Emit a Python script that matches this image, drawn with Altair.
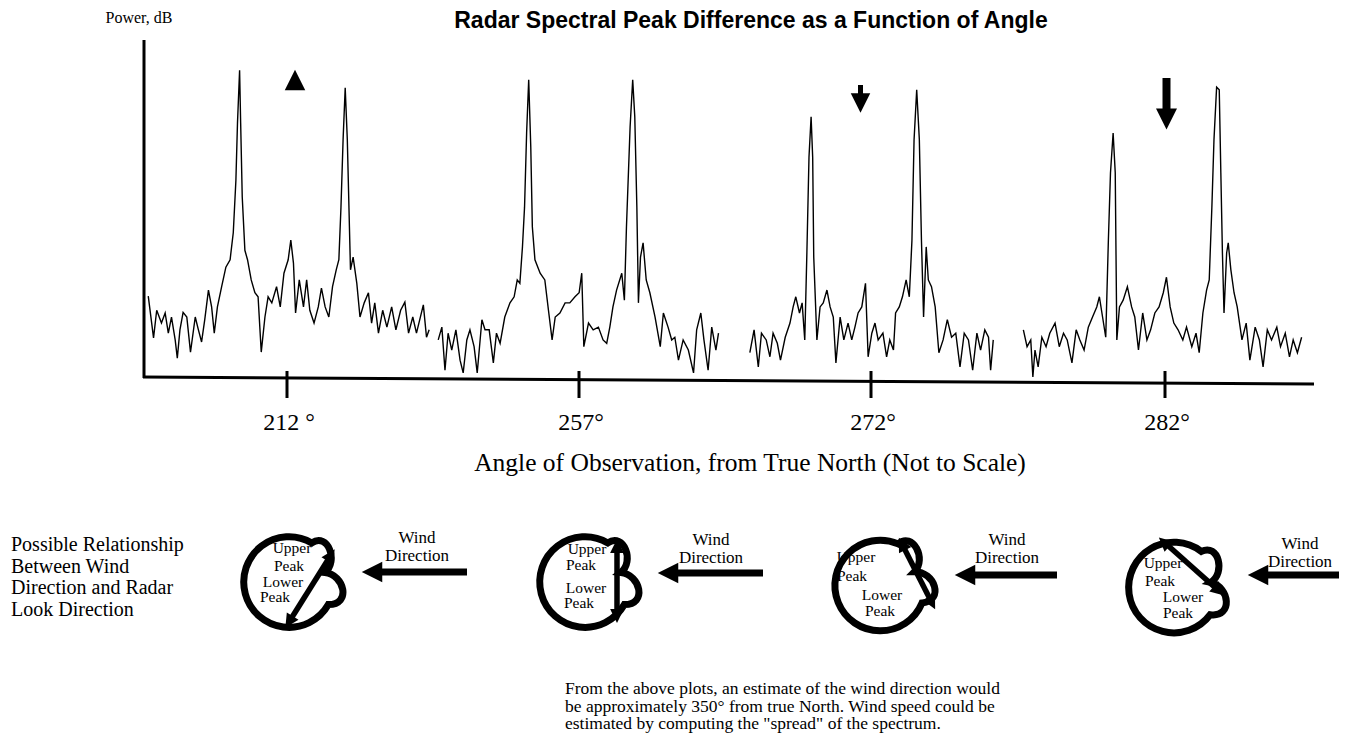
import math
import altair as alt
import pandas as pd

# ---------------- data ----------------
ANGLES = [212, 257, 272, 282]
ANGLE_LABELS = ["212 °", "257°", "272°", "282°"]

# normalised Doppler frequency (f / f_Bragg) and power (dB), one pair per look angle
F212 = [-2.73, -2.63, -2.57, -2.48, -2.41, -2.35, -2.29, -2.22, -2.18, -2.13, -2.07, -2.00,
        -1.93, -1.84, -1.78, -1.72, -1.66, -1.59, -1.53, -1.48, -1.42, -1.34, -1.26, -1.18, -1.12, -1.07, -1.04,
        -1.00,
        -0.98, -0.95, -0.90, -0.85, -0.78, -0.71, -0.65, -0.59, -0.52, -0.46, -0.39, -0.30, -0.23, -0.16, -0.08, -0.03,
        0.02, 0.06, 0.13, 0.21, 0.27, 0.33, 0.41, 0.49, 0.55, 0.62, 0.69, 0.76, 0.83, 0.88, 0.92, 0.96,
        1.00,
        1.04, 1.08, 1.10, 1.15, 1.22, 1.28, 1.36, 1.44, 1.50, 1.56, 1.63, 1.71, 1.79, 1.88, 1.96, 2.05, 2.13,
        2.20, 2.28, 2.35, 2.48, 2.54, 2.59]
P212 = [12.0, 5.8, 9.9, 8.0, 9.5, 6.5, 8.9, 5.5, 2.8, 7.0, 9.6, 8.9,
        3.7, 8.9, 7.0, 5.2, 8.5, 12.9, 10.4, 6.5, 10.4, 13.4, 16.3, 17.4, 21.4, 29.2, 37.7,
        45.5,
        37.7, 26.7, 18.8, 17.4, 14.4, 12.5, 11.9, 3.7, 8.9, 11.9, 11.0, 13.4, 10.4, 15.4, 17.4, 20.3,
        16.9, 9.5, 14.4, 10.4, 14.4, 9.9, 8.0, 10.4, 13.2, 10.4, 8.9, 13.4, 15.9, 17.4, 25.2, 35.2,
        42.9,
        35.2, 22.3, 15.9, 17.8, 13.9, 8.9, 11.0, 12.5, 8.0, 11.0, 6.5, 9.9, 7.4, 10.4, 7.0, 9.9, 11.1,
        6.5, 8.9, 6.5, 10.7, 5.9, 7.0]

F257 = [-2.74, -2.67, -2.61, -2.55, -2.48, -2.40, -2.32, -2.26, -2.19, -2.13,
        -2.05, -1.99, -1.90, -1.84, -1.76, -1.68, -1.62, -1.55, -1.46, -1.36,
        -1.28, -1.22, -1.17, -1.12, -1.08, -1.04, -1.00, -0.96, -0.93, -0.88,
        -0.78, -0.69, -0.62, -0.55, -0.49, -0.40, -0.30, -0.21, -0.11, -0.03,
        0.02, 0.06, 0.15, 0.24, 0.34, 0.43, 0.50, 0.56, 0.62, 0.69,
        0.79, 0.84, 0.88, 0.95, 1.00, 1.04, 1.08, 1.11, 1.15, 1.20,
        1.26, 1.33, 1.43, 1.53, 1.59, 1.68, 1.75, 1.81, 1.88, 1.97,
        2.07, 2.17, 2.23, 2.31, 2.37, 2.45, 2.52, 2.60, 2.65]
P257 = [5.5, 7.4, 1.0, 6.5, 4.0, 7.0, 2.5, 0.6, 5.5, 7.0,
        4.5, 0.6, 8.5, 7.0, 7.0, 2.1, 6.5, 5.0, 8.9, 11.0,
        11.9, 14.4, 13.9, 19.3, 25.2, 36.2, 44.1, 34.1, 22.3, 17.4,
        15.4, 14.4, 9.9, 5.5, 8.9, 9.5, 11.0, 11.0, 11.9, 12.5,
        15.4, 4.5, 8.0, 7.0, 7.4, 5.5, 5.0, 7.4, 10.4, 12.9,
        15.4, 11.4, 22.3, 37.1, 44.1, 38.6, 25.2, 11.0, 17.8, 19.9,
        14.4, 12.5, 8.9, 4.5, 9.5, 7.4, 5.5, 5.9, 2.5, 5.5,
        4.0, 0.6, 7.0, 9.5, 5.5, 1.0, 7.4, 4.0, 6.5]

F272 = [-2.16, -2.08, -2.00, -1.94, -1.85, -1.78, -1.72, -1.64, -1.58, -1.49,
        -1.40, -1.34, -1.29, -1.22, -1.17, -1.12, -1.08, -1.04, -1.00, -0.97,
        -0.95, -0.89, -0.83, -0.77, -0.70, -0.64, -0.58, -0.53, -0.45, -0.38,
        -0.30, -0.23, -0.17, -0.11, -0.04, 0.03, 0.08, 0.15, 0.21, 0.27,
        0.36, 0.43, 0.49, 0.56, 0.60, 0.67, 0.73, 0.80, 0.86, 0.91,
        0.95, 1.00, 1.05, 1.09, 1.13, 1.18, 1.22, 1.28, 1.35, 1.42,
        1.50, 1.58, 1.66, 1.74, 1.82, 1.90, 1.98, 2.06, 2.14, 2.21,
        2.29, 2.36, 2.40, 2.45]
P272 = [3.6, 7.0, 1.5, 6.5, 5.5, 3.0, 6.5, 5.0, 2.5, 5.9,
        8.0, 10.4, 11.9, 9.5, 11.0, 5.5, 18.4, 32.6, 38.6, 32.6,
        17.8, 5.5, 10.4, 11.0, 12.9, 10.4, 8.9, 2.1, 8.9, 5.5,
        8.0, 5.5, 7.4, 9.5, 10.4, 13.9, 3.0, 6.5, 8.0, 5.5,
        6.5, 3.0, 5.5, 4.0, 9.5, 10.4, 11.9, 14.4, 11.9, 20.3,
        35.2, 42.6, 35.2, 20.3, 8.9, 19.3, 14.4, 13.4, 10.4, 3.6,
        5.5, 8.5, 5.9, 6.5, 1.5, 6.5, 5.5, 1.0, 6.5, 4.0,
        7.0, 5.9, 1.0, 5.5]

F282 = [-2.69, -2.62, -2.55, -2.51, -2.47, -2.41, -2.34, -2.26, -2.19, -2.09,
        -2.01, -1.93, -1.86, -1.77, -1.69, -1.62, -1.54, -1.46, -1.38, -1.30,
        -1.25, -1.19, -1.13, -1.08, -1.04, -0.99, -0.95, -0.92, -0.87, -0.80,
        -0.72, -0.64, -0.58, -0.51, -0.43, -0.35, -0.28, -0.20, -0.12, -0.04,
        0.02, 0.09, 0.16, 0.24, 0.33, 0.40, 0.50, 0.58, 0.64, 0.71,
        0.78, 0.83, 0.88, 0.92, 0.97, 1.02, 1.05, 1.08, 1.11, 1.16,
        1.19, 1.24, 1.30, 1.36, 1.45, 1.53, 1.60, 1.70, 1.78, 1.85,
        1.93, 2.01, 2.11, 2.18, 2.27, 2.35, 2.42, 2.50, 2.58]
P282 = [7.0, 4.5, 5.5, 0.0, 4.0, 1.5, 5.9, 4.5, 6.5, 8.0,
        4.5, 6.5, 5.5, 2.1, 7.0, 5.5, 4.0, 7.4, 8.9, 10.4,
        11.9, 8.9, 5.9, 20.3, 30.3, 36.2, 30.3, 5.5, 10.4, 11.4,
        13.4, 10.4, 8.9, 4.0, 9.5, 5.5, 7.0, 9.5, 10.4, 12.5,
        14.8, 10.4, 8.0, 7.0, 5.5, 7.4, 4.5, 6.5, 3.6, 9.5,
        12.9, 14.4, 25.2, 35.2, 43.0, 42.6, 30.3, 18.4, 9.5, 18.4,
        19.9, 15.9, 12.5, 10.4, 5.5, 8.0, 2.5, 7.4, 5.5, 1.5,
        7.0, 5.5, 7.4, 4.5, 6.5, 3.0, 5.5, 3.6, 5.9]

SPECTRA = [(F212, P212), (F257, P257), (F272, P272), (F282, P282)]

TITLE = "Radar Spectral Peak Difference as a Function of Angle"
Y_TITLE = "Power, dB"
X_TITLE = "Angle of Observation, from True North (Not to Scale)"
SIDE_TEXT = ["Possible Relationship", "Between Wind", "Direction and Radar", "Look Direction"]
WIND_TEXT = ["Wind", "Direction"]
NOTE = ["From the above plots, an estimate of the wind direction would",
        "be approximately 350° from true North. Wind speed could be",
        "estimated by computing the \"spread\" of the spectrum."]

# ---------------- layout (page pixels) ----------------
M = 8  # page margin
W, H = 1331, 730
SERIF = "Liberation Serif"
SANS = "Liberation Sans"

PANEL_CENTER = [292.4, 580.7, 863.9, 1165.4]
PANEL_PPU = [52.8, 52.0, 52.8, 52.8]
Y_RANGE = [377 - M, 40 - M]
TICK_PX = [287 - M, 579 - M, 871 - M, 1165 - M]

ONE = alt.Data(values=[{"k": 0}])


def vx(x):
    return alt.value(x - M)


def vy(y):
    return alt.value(y - M)


def text(s, x, y, size, font=SERIF, weight="normal", align="center", baseline="middle", lh=None):
    kw = {}
    if lh is not None:
        kw["lineHeight"] = lh
    return alt.Chart(ONE).mark_text(
        text=s, font=font, fontSize=size, fontWeight=weight, align=align,
        baseline=baseline, color="black", **kw
    ).encode(x=vx(x), y=vy(y))


def rule(x1, y1, x2, y2, w):
    return alt.Chart(ONE).mark_rule(color="black", strokeWidth=w).encode(
        x=vx(x1), y=vy(y1), x2=vx(x2), y2=vy(y2))


def symbol(shape, x, y, size, angle=0, filled=True, sw=1):
    return alt.Chart(ONE).mark_point(
        shape=shape, size=size, angle=angle, filled=filled, color="black",
        opacity=1, strokeWidth=sw
    ).encode(x=vx(x), y=vy(y))


TRI_UP = "M0,-1L1,1L-1,1Z"
TRI_DOWN = "M-1,-1L1,-1L0,1Z"
TRI_LEFT = "M-1,0L1,-1L1,1Z"
# circle with a small "B"-like double bump on its right side
B_SHAPE = ("M0.545,-0.62 C0.90,-0.74 0.96,-0.14 0.64,0 "
           "C1.0,0.14 0.98,0.74 0.545,0.62 A0.88,0.88 0 1 1 0.545,-0.62 Z")

layers = []

# spectra
for (f, p), c, ppu in zip(SPECTRA, PANEL_CENTER, PANEL_PPU):
    df = pd.DataFrame({"f": f, "p": p})
    lo, hi = c - M - 2.8 * ppu, c - M + 2.8 * ppu
    layers.append(
        alt.Chart(df).mark_line(color="black", strokeWidth=1.4).encode(
            x=alt.X("f:Q", axis=None,
                    scale=alt.Scale(domain=[-2.8, 2.8], range=[lo, hi], nice=False, zero=False)),
            y=alt.Y("p:Q", axis=None,
                    scale=alt.Scale(domain=[0, 50], range=Y_RANGE, nice=False, zero=False)),
        )
    )

# axes
layers.append(rule(144, 40, 144, 378, 3))
layers.append(rule(143, 377, 1314, 384, 3))

tick_df = pd.DataFrame({"angle": ANGLES, "label": ANGLE_LABELS})
ang_x = alt.X("angle:Q", axis=None,
              scale=alt.Scale(domain=ANGLES, range=TICK_PX, nice=False, zero=False))
layers.append(alt.Chart(tick_df).mark_rule(color="black", strokeWidth=3).encode(
    x=ang_x, y=vy(371), y2=vy(398)))
layers.append(alt.Chart(tick_df).mark_text(
    font=SERIF, fontSize=24, dx=2, baseline="middle", color="black").encode(
    x=ang_x, y=vy(423), text="label:N"))

layers.append(text(X_TITLE, 750, 463, 25.5))
layers.append(text(TITLE, 751, 28, 23, font=SANS, weight="bold", baseline="alphabetic"))
layers.append(text(Y_TITLE, 139, 18, 16))

# direction markers over the spectra
layers.append(symbol(TRI_UP, 295, 80, 420))
layers.append(rule(860.5, 85, 860.5, 97, 5))
layers.append(symbol(TRI_DOWN, 860.5, 103, 380))
layers.append(rule(1166.5, 78, 1166.5, 110, 8))
layers.append(symbol(TRI_DOWN, 1166.5, 119, 440))

# lower explanatory panel
layers.append(text(SIDE_TEXT, 11, 535, 20, align="left", baseline="top", lh=21.5))

circles = [
    dict(cx=293, cy=581, ang=345,
         arrow=(289, 622, 331, 555),
         words=[("Upper", 292, 548), ("Peak", 289, 566), ("Lower", 283, 582), ("Peak", 275, 597)],
         wind=(362, 467, 572), wtxt=(417, 530)),
    dict(cx=589, cy=581, ang=345,
         arrow=(617, 546, 617, 616),
         words=[("Upper", 587, 549), ("Peak", 581, 565), ("Lower", 586, 588), ("Peak", 579, 603)],
         wind=(658, 763, 573), wtxt=(711, 532)),
    dict(cx=884, cy=584, ang=338,
         arrow=(902, 544, 932, 603),
         words=[("Upper", 856, 557), ("Peak", 852, 576), ("Lower", 882, 595), ("Peak", 880, 611)],
         wind=(955, 1057, 575), wtxt=(1007, 532)),
    dict(cx=1178, cy=587, ang=352,
         arrow=(1164, 542, 1219, 591),
         words=[("Upper", 1163, 563), ("Peak", 1160, 581), ("Lower", 1183, 597), ("Peak", 1178, 613)],
         wind=(1248, 1347, 575), wtxt=(1300, 536)),
]

for c in circles:
    layers.append(symbol(B_SHAPE, c["cx"], c["cy"], 10600, angle=c["ang"], filled=False, sw=7))
    x1, y1, x2, y2 = c["arrow"]
    layers.append(rule(x1, y1, x2, y2, 5.5))
    a = math.degrees(math.atan2(x2 - x1, -(y2 - y1))) % 360
    layers.append(symbol(TRI_UP, x2, y2, 190, angle=round(a, 1)))
    layers.append(symbol(TRI_UP, x1, y1, 190, angle=round((a + 180) % 360, 1)))
    for w, tx, ty in c["words"]:
        layers.append(text(w, tx, ty, 15.5))
    tip, tail, wy = c["wind"]
    layers.append(rule(tip + 12, wy, tail, wy, 7))
    layers.append(symbol(TRI_LEFT, tip + 10, wy, 420))
    wx, wtop = c["wtxt"]
    layers.append(text(WIND_TEXT, wx, wtop, 17, baseline="top", lh=17.5))

layers.append(text(NOTE, 565, 680, 17.5, align="left", baseline="top", lh=17.5))

chart = alt.layer(*layers).resolve_scale(x="independent").properties(
    width=W, height=H, padding=0, autosize="none"
).configure_view(stroke=None)

chart.save("out.html", embed_options={"renderer": "svg", "actions": False})
